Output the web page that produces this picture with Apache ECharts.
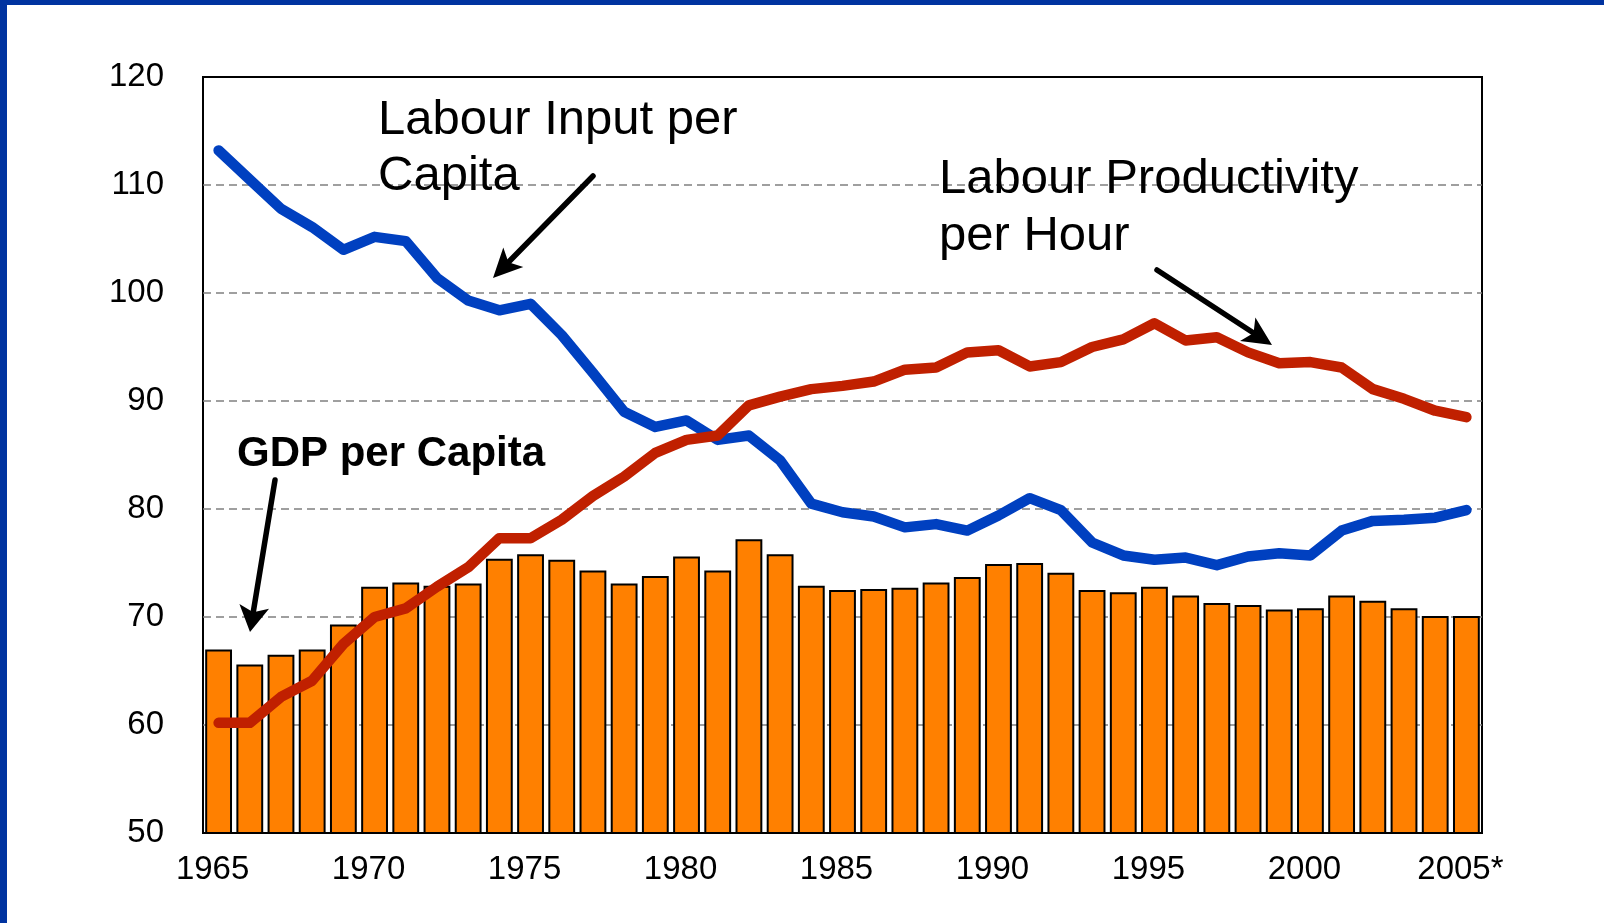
<!DOCTYPE html>
<html>
<head>
<meta charset="utf-8">
<script src="https://cdn.jsdelivr.net/npm/echarts@6/dist/echarts.min.js"></script>
<style>
  html, body { margin: 0; padding: 0; background: #fff; }
  #chart { width: 1604px; height: 923px; }
</style>
</head>
<body>
<div id="chart"></div>
<script>
// years on the x axis (last one is an estimate)
const years = ['1965', '1966', '1967', '1968', '1969', '1970', '1971', '1972', '1973', '1974',
  '1975', '1976', '1977', '1978', '1979', '1980', '1981', '1982', '1983', '1984',
  '1985', '1986', '1987', '1988', '1989', '1990', '1991', '1992', '1993', '1994',
  '1995', '1996', '1997', '1998', '1999', '2000', '2001', '2002', '2003', '2004', '2005*'];

// GDP per capita (bars)
const gdpPerCapita = [67.0, 65.6, 66.5, 67.0, 69.3, 72.8, 73.2, 72.9, 73.1, 75.4,
  75.8, 75.3, 74.3, 73.1, 73.8, 75.6, 74.3, 77.2, 75.8, 72.9,
  72.5, 72.6, 72.7, 73.2, 73.7, 74.9, 75.0, 74.1, 72.5, 72.3,
  72.8, 72.0, 71.3, 71.1, 70.7, 70.8, 72.0, 71.5, 70.8, 70.1, 70.1];

// labour input per capita (blue line)
const labourInput = [113.2, 110.5, 107.8, 106.1, 104.0, 105.2, 104.8, 101.4, 99.3, 98.4,
  99.0, 96.1, 92.6, 89.0, 87.6, 88.2, 86.4, 86.8, 84.5, 80.5,
  79.7, 79.3, 78.3, 78.6, 78.0, 79.4, 81.0, 79.9, 76.9, 75.7,
  75.3, 75.5, 74.8, 75.6, 75.9, 75.7, 78.0, 78.9, 79.0, 79.2, 79.9];

// labour productivity per hour (red line)
const productivity = [60.2, 60.2, 62.6, 64.1, 67.5, 70.0, 70.8, 72.8, 74.6, 77.3,
  77.3, 79.0, 81.2, 83.0, 85.2, 86.4, 86.8, 89.6, 90.4, 91.1,
  91.4, 91.8, 92.9, 93.1, 94.5, 94.7, 93.2, 93.6, 95.0, 95.7,
  97.2, 95.6, 95.9, 94.5, 93.5, 93.6, 93.1, 91.1, 90.2, 89.1, 88.5];

const FONT = '"Liberation Sans", Arial, Helvetica, sans-serif';

// black annotation arrow: shaft + stealth head
function arrow(tail, tip, headLen = 29, headW = 14, notch = 7) {
  const dx = tip[0] - tail[0], dy = tip[1] - tail[1];
  const len = Math.hypot(dx, dy);
  const ux = dx / len, uy = dy / len;
  const bx = tip[0] - ux * headLen, by = tip[1] - uy * headLen;
  const nx = tip[0] - ux * (headLen - notch), ny = tip[1] - uy * (headLen - notch);
  return [
    {
      type: 'line', z: 100,
      shape: { x1: tail[0], y1: tail[1], x2: nx, y2: ny },
      style: { stroke: '#000', lineWidth: 5.5, lineCap: 'round' }
    },
    {
      type: 'polygon', z: 100,
      shape: { points: [tip, [bx - uy * headW, by + ux * headW], [nx, ny], [bx + uy * headW, by - ux * headW]] },
      style: { fill: '#000' }
    }
  ];
}

function label(text, x, y, size, weight) {
  return {
    type: 'text', z: 100, x: x, y: y,
    style: { text: text, fill: '#000', font: (weight || 'normal') + ' ' + size + 'px ' + FONT, verticalAlign: 'middle' }
  };
}

const chart = echarts.init(document.getElementById('chart'));

chart.setOption({
  backgroundColor: '#fff',
  animation: false,
  grid: {
    left: 203, right: 122, top: 77, bottom: 90,
    show: true, borderColor: '#000', borderWidth: 2, backgroundColor: 'transparent'
  },
  xAxis: {
    type: 'category',
    data: years,
    axisLine: { show: true, lineStyle: { color: '#000', width: 2 } },
    axisTick: { show: false },
    axisLabel: { interval: 4, color: '#000', fontSize: 33, fontFamily: FONT, margin: 20, padding: [0, 12, 0, 0] }
  },
  yAxis: {
    type: 'value',
    min: 50, max: 120, interval: 10,
    axisLine: { show: false },
    axisTick: { show: false },
    axisLabel: { color: '#000', fontSize: 33, fontFamily: FONT, margin: 39 },
    splitLine: {
      show: true, showMinLine: false, showMaxLine: false,
      lineStyle: { color: '#808080', width: 1.5, type: [8, 5] }
    }
  },
  series: [
    {
      name: 'GDP per Capita',
      type: 'bar',
      data: gdpPerCapita,
      barCategoryGap: '14%',
      itemStyle: { color: '#ff8000', borderColor: '#000', borderWidth: 2 }
    },
    {
      name: 'Labour Input per Capita',
      type: 'line',
      data: labourInput,
      symbol: 'none',
      lineStyle: { color: '#0040c0', width: 10.5, cap: 'round', join: 'round' }
    },
    {
      name: 'Labour Productivity per Hour',
      type: 'line',
      data: productivity,
      symbol: 'none',
      lineStyle: { color: '#c02000', width: 10.5, cap: 'round', join: 'round' }
    }
  ],
  graphic: [
    // blue frame edges
    { type: 'rect', shape: { x: 0, y: 0, width: 7, height: 923 }, style: { fill: '#0033a0' } },
    { type: 'rect', shape: { x: 0, y: 0, width: 1604, height: 5 }, style: { fill: '#0033a0' } },
    label('Labour Input per', 378, 120, 49),
    label('Capita', 378, 176, 49),
    label('Labour Productivity', 939, 179, 49),
    label('per Hour', 939, 236, 49),
    label('GDP per Capita', 237, 454, 42, 'bold'),
    ...arrow([593, 176], [493, 278]),
    ...arrow([1157, 270], [1272, 345]),
    ...arrow([275, 480], [250, 632], 26, 15, 6)
  ]
});
</script>
</body>
</html>
